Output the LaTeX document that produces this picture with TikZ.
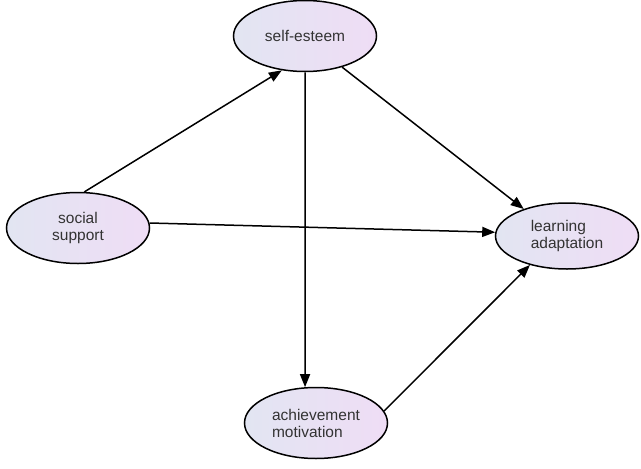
\documentclass[tikz,border=0pt]{standalone}
\usepackage{fontspec}
\setmainfont{Liberation Sans}
\usetikzlibrary{arrows.meta,positioning,shapes.geometric}
\definecolor{shadeL}{RGB}{226,229,242}
\definecolor{shadeR}{RGB}{239,221,245}

\begin{document}
\begin{tikzpicture}[x=1pt,y=-1pt,on grid,
  var/.style={ellipse,draw,line width=1.5pt,minimum width=143pt,minimum height=71pt,inner sep=0pt,
    left color=shadeL,right color=shadeR,font=\fontsize{15.5}{17}\selectfont,text=black!80,align=left},
  effect/.style={-{Triangle[length=13pt,width=10pt]},line width=1.5pt}]
\useasboundingbox (0,0) rectangle (641,469);
\node[var] (se) at (305,36) {self-esteem};
\node[var,below left=192pt and 227pt of se,align=center] (ss) {social\\support};
\node[var,below right=200pt and 262pt of se,minimum height=66pt] (la) {learning\\adaptation};
\node[var,below right=387pt and 11pt of se] (am) {achievement\\motivation};
\draw[effect] (ss.80) -- (se.236);
\draw[effect] (ss.4) -- (la.177);
\draw[effect] (se.-40) -- (la.148);
\draw[effect] (se.south) -- (am.107);
\draw[effect] (am.10) -- (la.218);
\end{tikzpicture}
\end{document}
